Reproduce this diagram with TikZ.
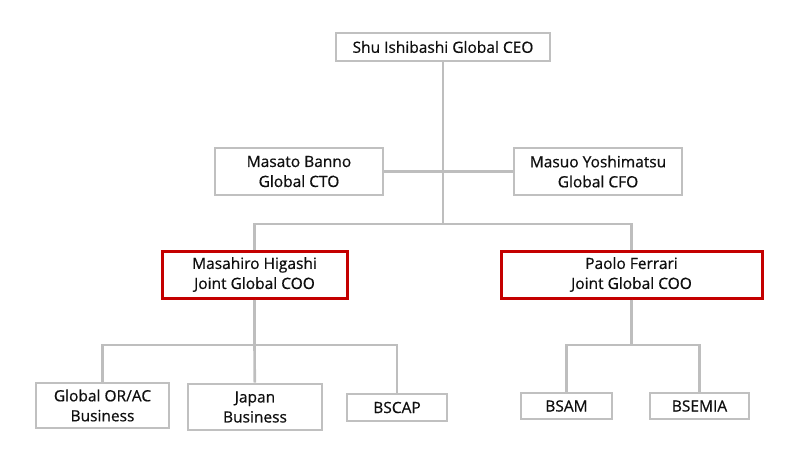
\documentclass[tikz,border=0pt]{standalone}
\usepackage{fontspec}
\setmainfont{Open Sans}[FakeBold=0.6]
\usepackage{tikz}
\usetikzlibrary{positioning,arrows.meta}
\definecolor{boxgrey}{RGB}{192,192,192}
\definecolor{linegrey}{RGB}{190,190,190}
\definecolor{cooRed}{RGB}{196,0,0}
\definecolor{textdark}{RGB}{15,15,15}

\begin{document}
\begin{tikzpicture}[
    x=1pt, y=-1pt,
    unit/.style={
        draw=boxgrey,
        line width=2.6pt,
        fill=white,
        align=center,
        inner sep=0pt,
        text=textdark,
        font=\fontsize{15.5}{20}\selectfont
    },
    coo/.style={
        unit,
        draw=cooRed,
        line width=3pt
    },
    link/.style={draw=linegrey, line width=2.6pt}
]
\useasboundingbox (0,0) rectangle (800,461);

% TOP
\node[unit, minimum width=214pt, minimum height=28pt] (ceo) at (443,47)
{Shu Ishibashi Global CEO};

\node[unit, minimum width=168pt, minimum height=47pt] (cto) at (299,171.5)
{Masato Banno\\Global CTO};

\node[unit, minimum width=168pt, minimum height=47pt] (cfo) at (598,171.5)
{Masuo Yoshimatsu\\Global CFO};

% JOINT GLOBAL COO
\node[coo, minimum width=185pt, minimum height=47pt] (higashi) at (254.5,274.5)
{Masahiro Higashi\\Joint Global COO};

\node[coo, minimum width=261pt, minimum height=47pt] (ferrari) at (631.5,274.5)
{Paolo Ferrari\\Joint Global COO};

% BUSINESSES
\node[unit, minimum width=133pt, minimum height=45pt] (orac) at (102.5,405.5)
{Global OR/AC\\Business};

\node[unit, minimum width=134pt, minimum height=46pt] (japan) at (255,407)
{Japan\\Business};

\node[unit, minimum width=100pt, minimum height=27pt] (bscap) at (397,407.5)
{BSCAP};

\node[unit, minimum width=91pt, minimum height=26pt] (bsam) at (566.5,406)
{BSAM};

\node[unit, minimum width=99pt, minimum height=26pt] (bsemia) at (699.5,406)
{BSEMIA};

\coordinate (topbar) at (443,224);
\coordinate (hbar) at (254.5,345);
\coordinate (fbar) at (631.5,345);

% CONNECTORS
\draw[link] (ceo) -- (topbar);
\draw[link] (cto) -- (cfo);
\draw[link] (higashi.north) |- (topbar) -| (ferrari.north);

\draw[link] (higashi) -- (hbar);
\draw[link] (orac.north) |- (hbar) -| (bscap.north);
\draw[link] (hbar) -- (japan);

\draw[link] (ferrari) -- (fbar);
\draw[link] (bsam.north) |- (fbar) -| (bsemia.north);

\end{tikzpicture}
\end{document}
